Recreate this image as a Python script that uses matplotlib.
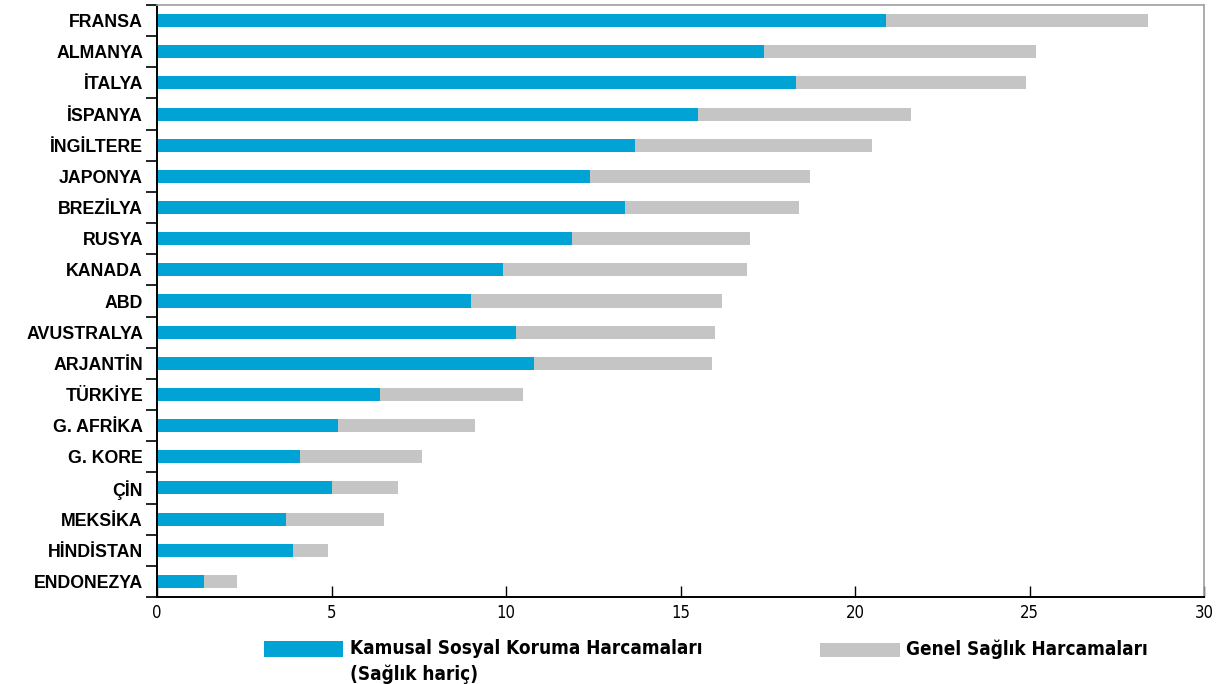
import matplotlib
matplotlib.use("Agg")
import matplotlib.pyplot as plt
from matplotlib.patches import Rectangle

countries = ["FRANSA", "ALMANYA", "İTALYA", "İSPANYA", "İNGİLTERE", "JAPONYA",
             "BREZİLYA", "RUSYA", "KANADA", "ABD", "AVUSTRALYA", "ARJANTİN",
             "TÜRKİYE", "G. AFRİKA", "G. KORE", "ÇİN", "MEKSİKA", "HİNDİSTAN",
             "ENDONEZYA"]
# Public social protection spending (excluding health), % of GDP
sosyal_koruma = [20.9, 17.4, 18.3, 15.5, 13.7, 12.4, 13.4, 11.9, 9.9, 9.0,
                 10.3, 10.8, 6.4, 5.2, 4.1, 5.0, 3.7, 3.9, 1.35]
# General health spending, % of GDP
saglik = [7.5, 7.8, 6.6, 6.1, 6.8, 6.3, 5.0, 5.1, 7.0, 7.2,
          5.7, 5.1, 4.1, 3.9, 3.5, 1.9, 2.8, 1.0, 0.95]
x_ticks = [0, 5, 10, 15, 20, 25, 30]

BLUE = "#00a3d4"
GREY = "#c4c5c4"

plt.rcParams["font.family"] = ["Liberation Sans", "DejaVu Sans"]
narrow = dict(family="DejaVu Sans", fontstretch="condensed")

fig = plt.figure(figsize=(12.29, 6.84), dpi=100)
ax = fig.add_axes([157 / 1229, 1 - 597 / 684, (1204 - 157) / 1229, (597 - 5) / 684])

y = list(range(len(countries)))
ax.barh(y, sosyal_koruma, height=0.42, color=BLUE, edgecolor="none")
ax.barh(y, saglik, left=sosyal_koruma, height=0.42, color=GREY, edgecolor="none")

ax.set_xlim(0, 30)
ax.set_ylim(len(countries) - 0.5, -0.5)

ax.set_xticks(x_ticks)
ax.set_xticklabels([str(t) for t in x_ticks], fontsize=12, **narrow)
ax.tick_params(axis="x", direction="in", length=8, width=1, color="black", pad=5)

ax.set_yticks(y)
ax.set_yticklabels(countries, fontsize=12.8, fontweight="bold")
ax.tick_params(axis="y", which="major", length=0, pad=10)
ax.set_yticks([i - 0.5 for i in range(len(countries) + 1)], minor=True)
ax.tick_params(axis="y", which="minor", direction="out", length=8, width=1.2, color="black")

for side in ("top", "right"):
    ax.spines[side].set_color("#a0a0a0")
    ax.spines[side].set_linewidth(1.2)
for side in ("left", "bottom"):
    ax.spines[side].set_color("black")
    ax.spines[side].set_linewidth(1.4)

# Legend drawn in figure pixel coordinates below the axis
def fx(px):
    return px / 1229

def fy(py):
    return 1 - py / 684

fig.patches.append(Rectangle((fx(264), fy(657)), fx(343) - fx(264), fy(641) - fy(657),
                             transform=fig.transFigure, color=BLUE, lw=0))
fig.text(fx(350), fy(649), "Kamusal Sosyal Koruma Harcamaları",
         fontweight="bold", fontsize=13.6, va="center", ha="left", **narrow)
fig.text(fx(350), fy(674), "(Sağlık hariç)",
         fontweight="bold", fontsize=13.6, va="center", ha="left", **narrow)
fig.patches.append(Rectangle((fx(820), fy(657)), fx(900) - fx(820), fy(643) - fy(657),
                             transform=fig.transFigure, color=GREY, lw=0))
fig.text(fx(906), fy(649), "Genel Sağlık Harcamaları",
         fontweight="bold", fontsize=13.6, va="center", ha="left", **narrow)

fig.savefig("out.png", dpi=100)
